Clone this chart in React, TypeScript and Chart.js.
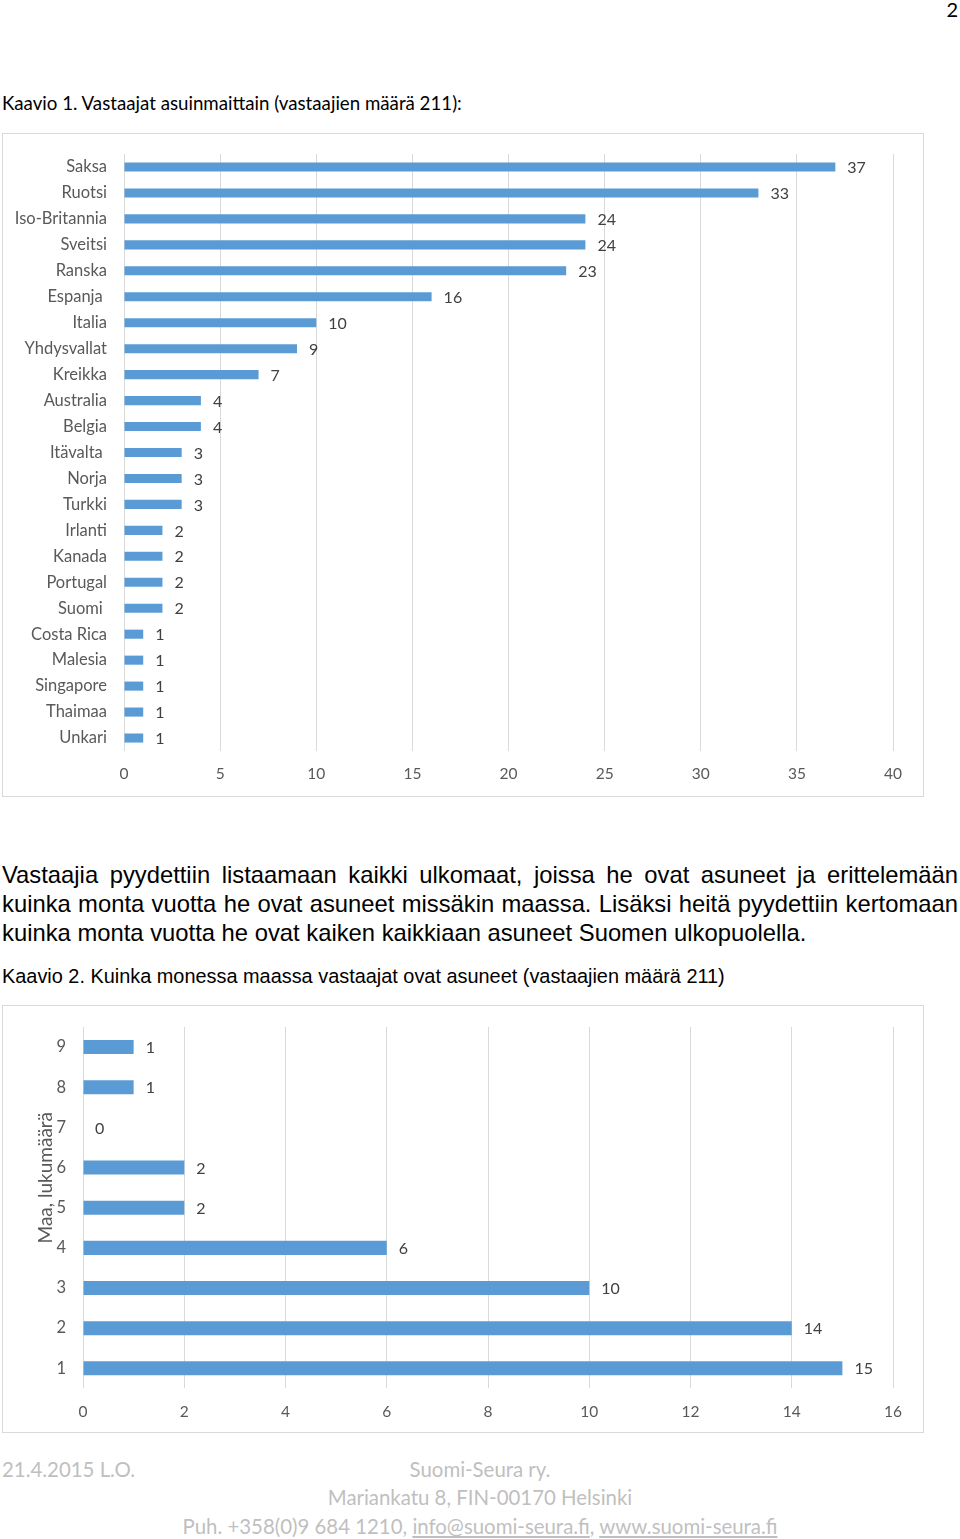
import React, { useEffect, useRef } from "react";
import { Chart, registerables } from "chart.js";
Chart.register(...registerables);

const countries = [
  "Saksa", "Ruotsi", "Iso-Britannia", "Sveitsi", "Ranska", "Espanja ", "Italia",
  "Yhdysvallat", "Kreikka", "Australia", "Belgia", "Itävalta ", "Norja", "Turkki",
  "Irlanti", "Kanada", "Portugal", "Suomi ", "Costa Rica", "Malesia", "Singapore",
  "Thaimaa", "Unkari",
];
const respondents = [37, 33, 24, 24, 23, 16, 10, 9, 7, 4, 4, 3, 3, 3, 2, 2, 2, 2, 1, 1, 1, 1, 1];

const countryCounts = ["9", "8", "7", "6", "5", "4", "3", "2", "1"];
const countryCountValues = [1, 1, 0, 2, 2, 6, 10, 14, 15];

const chart1Axis = { min: 0, max: 40, step: 5 };
const chart2Axis = { min: 0, max: 16, step: 2 };
const chart2AxisTitle = "Maa, lukumäärä";

const BAR = "#5b9bd5";
const GRID = "#d9d9d9";
const TICK = "#595959";
const LABEL = "#404040";
const FONT = "Lato";

const valueLabels = {
  id: "valueLabels",
  afterDatasetsDraw(chart: any, _args: any, opts: any) {
    const { ctx } = chart;
    const meta = chart.getDatasetMeta(0);
    const data = chart.data.datasets[0].data;
    ctx.save();
    ctx.font = `${opts.size}px ${FONT}`;
    ctx.fillStyle = LABEL;
    ctx.textAlign = "left";
    ctx.textBaseline = "middle";
    meta.data.forEach((el: any, i: number) => {
      ctx.fillText(String(data[i]), el.x + opts.offset, el.y + 1);
    });
    ctx.restore();
  },
};

const sideTitle = {
  id: "sideTitle",
  afterDraw(chart: any, _args: any, opts: any) {
    if (!opts || !opts.text) return;
    const { ctx, chartArea } = chart;
    ctx.save();
    ctx.translate(opts.x, (chartArea.top + chartArea.bottom) / 2 + opts.dy);
    ctx.rotate(-Math.PI / 2);
    ctx.font = `${opts.size}px ${FONT}`;
    ctx.fillStyle = TICK;
    ctx.textAlign = "center";
    ctx.textBaseline = "middle";
    ctx.fillText(opts.text, 0, 0);
    ctx.restore();
  },
};

function makeOptions(axis: any, yWidth: number, xHeight: number, top: number, labelOffset: number, title?: any) {
  return {
    indexAxis: "y" as const,
    responsive: false,
    maintainAspectRatio: false,
    animation: false as const,
    layout: { padding: { top, right: 30, bottom: 0, left: 0 } },
    plugins: {
      legend: { display: false },
      tooltip: { enabled: false },
      valueLabels: { size: 16, offset: labelOffset },
      sideTitle: title || {},
    },
    scales: {
      x: {
        min: axis.min,
        max: axis.max,
        ticks: { stepSize: axis.step, color: TICK, font: { family: FONT, size: 15.5 }, padding: 14 },
        grid: { color: GRID, drawTicks: false, lineWidth: 1 },
        border: { display: false },
        afterFit(s: any) { s.height = xHeight; },
      },
      y: {
        ticks: { color: TICK, font: { family: FONT, size: 16.5 }, padding: 17, autoSkip: false },
        grid: { display: false, drawTicks: false },
        border: { display: false },
        afterFit(s: any) { s.width = yWidth; s.paddingTop = 0; s.paddingBottom = 0; },
      },
    },
  };
}

function BarChart(props: { labels: string[]; values: number[]; width: number; height: number; options: any }) {
  const ref = useRef<HTMLCanvasElement>(null);
  useEffect(() => {
    const chart = new Chart(ref.current!, {
      type: "bar",
      data: {
        labels: props.labels,
        datasets: [{ data: props.values, backgroundColor: BAR, barPercentage: 0.35, categoryPercentage: 1 }],
      },
      options: props.options,
      plugins: [valueLabels, sideTitle],
    });
    return () => chart.destroy();
  }, []);
  return <canvas ref={ref} width={props.width} height={props.height} style={{ display: "block" }} />;
}

const abs = (left: number, top: number, extra: any = {}) => ({ position: "absolute" as const, left, top, ...extra });

export default function App() {
  const para = { fontFamily: "'Liberation Sans', Arial, sans-serif", fontSize: 23.8, lineHeight: "29px", color: "#000", width: 956, whiteSpace: "nowrap" as const };
  const foot = { fontFamily: FONT, fontSize: 20.4, color: "#bfbfbf", lineHeight: "28px", whiteSpace: "nowrap" as const };
  return (
    <div style={{ position: "absolute", left: 0, top: 0, width: 960, height: 1539, background: "#fff", overflow: "hidden" }}>
      <div style={abs(944, -5, { fontFamily: FONT, fontSize: 20, lineHeight: "28px", width: 14, textAlign: "right" })}>2</div>
      <div style={abs(2, 90, { fontFamily: FONT, fontSize: 18.7, lineHeight: "26px", whiteSpace: "nowrap" })}>
        Kaavio 1. Vastaajat asuinmaittain (vastaajien määrä 211):
      </div>
      <div style={abs(2, 133, { width: 920, height: 662, border: `1px solid ${GRID}` })}>
        <BarChart labels={countries} values={respondents} width={920} height={662}
          options={makeOptions(chart1Axis, 121, 45, 20, 12)} />
      </div>

      <div style={abs(2, 860, { ...para, textAlignLast: "justify", whiteSpace: "normal" })}>
        Vastaajia pyydettiin listaamaan kaikki ulkomaat, joissa he ovat asuneet ja erittelemään
      </div>
      <div style={abs(2, 889, { ...para, textAlignLast: "justify", whiteSpace: "normal" })}>
        kuinka monta vuotta he ovat asuneet missäkin maassa. Lisäksi heitä pyydettiin kertomaan
      </div>
      <div style={abs(2, 918, para)}>
        kuinka monta vuotta he ovat kaiken kaikkiaan asuneet Suomen ulkopuolella.
      </div>
      <div style={abs(2, 963, { fontFamily: "'Liberation Sans', Arial, sans-serif", fontSize: 19.9, lineHeight: "26px", whiteSpace: "nowrap" })}>
        Kaavio 2. Kuinka monessa maassa vastaajat ovat asuneet (vastaajien määrä 211)
      </div>
      <div style={abs(2, 1005, { width: 920, height: 426, border: `1px solid ${GRID}` })}>
        <BarChart labels={countryCounts} values={countryCountValues} width={920} height={426}
          options={makeOptions(chart2Axis, 80, 43.6, 21, 12, { text: chart2AxisTitle, x: 43, dy: -30, size: 19 })} />
      </div>

      <div style={abs(2, 1455, foot)}>21.4.2015 L.O.</div>
      <div style={abs(0, 1455, { ...foot, width: 960, textAlign: "center" })}>Suomi-Seura ry.</div>
      <div style={abs(0, 1483, { ...foot, width: 960, textAlign: "center" })}>Mariankatu 8, FIN-00170 Helsinki</div>
      <div style={abs(0, 1512, { ...foot, width: 960, textAlign: "center" })}>
        Puh. +358(0)9 684 1210, <span style={{ textDecoration: "underline" }}>info@suomi-seura.fi</span>,{" "}
        <span style={{ textDecoration: "underline" }}>www.suomi-seura.fi</span>
      </div>
    </div>
  );
}
